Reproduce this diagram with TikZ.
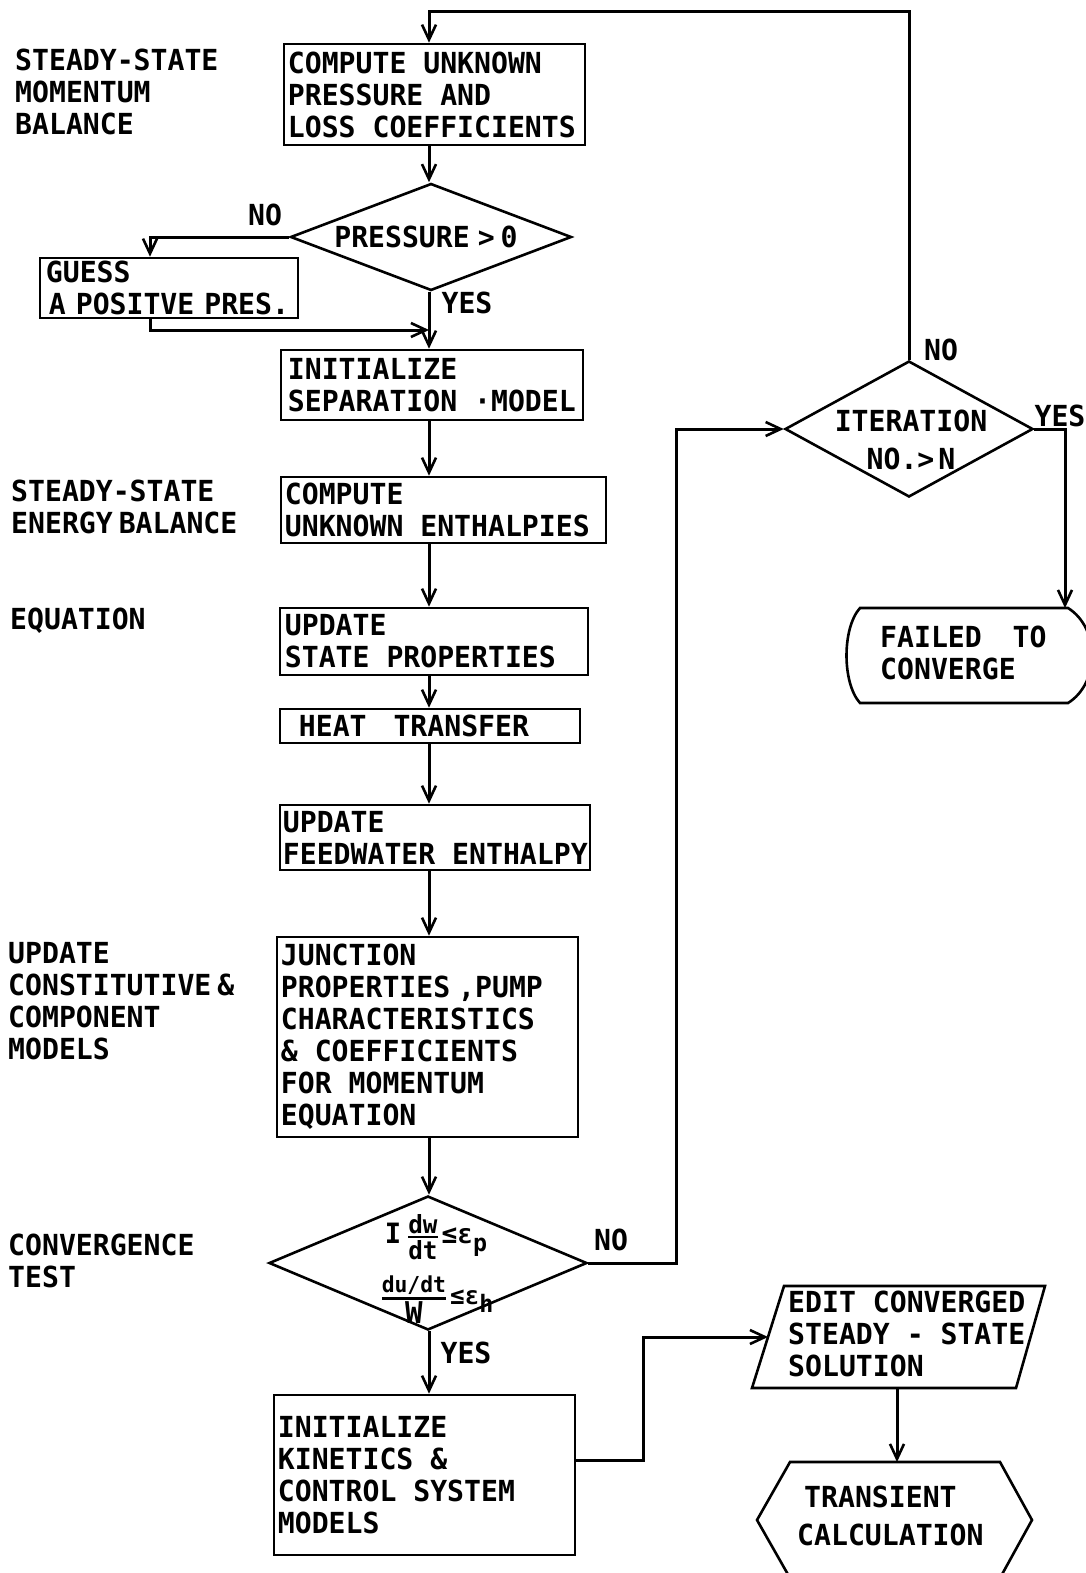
\documentclass[tikz,border=0pt]{standalone}
\usepackage{amsmath}
\usepackage{fontspec}
\newfontfamily\lf[FakeStretch=0.97]{DejaVu Sans Mono Bold}
\usetikzlibrary{arrows.meta,shapes.geometric,calc}
\begin{document}
\begin{tikzpicture}[x=1pt,y=-1pt,
  every node/.style={font=\lf\fontsize{29}{32}\selectfont, inner sep=0pt},
  box/.style={draw, line width=2.6pt},
  txt/.style={align=left, anchor=west},
  dia/.style={draw, diamond, line width=2.6pt, inner sep=0pt},
  arr/.style={-{Straight Barb[length=15pt,width=14pt,line width=2.6pt]}, line width=3pt},
  shp/.style={draw, line width=2.6pt, line join=miter}
]
\useasboundingbox (0,0) rectangle (1086,1573);
\clip (0,0) rectangle (1086,1573);

% helper coordinates
\coordinate (colx) at (429,0);
\coordinate (loopc) at (0,12);
\coordinate (gcol) at (150,0);
\coordinate (mrg) at (0,330);
\coordinate (c2x) at (676,0);
\coordinate (c3x) at (643,0);
\coordinate (ky) at (0,1460);

% left labels
\node[txt] (lm) at (15,92) {STEADY-STATE\\MOMENTUM\\BALANCE};
\node[txt] (le) at (11,507) {STEADY-STATE\\ENERGY\hspace{6pt}BALANCE};
\node[txt] (leq) at (10,621) {EQUATION};
\node[txt] (lu) at (8,1001) {UPDATE\\CONSTITUTIVE\hspace{6pt}\&\\COMPONENT\\MODELS};
\node[txt] (lc) at (8,1261) {CONVERGENCE\\TEST};

% boxes
\node[box, minimum width=301pt, minimum height=101pt] (b1) at (434.5,94.5) {};
\node[txt] (b1t) at ([xshift=5pt]b1.west) {COMPUTE UNKNOWN\\PRESSURE AND\\LOSS COEFFICIENTS};

\node[dia, minimum width=281pt, minimum height=107pt] (d1) at (431,237) {};
\node (d1t) at (426,237) {PRESSURE\hspace{8pt}>\hspace{6pt}0};

\node[box, minimum width=258pt, minimum height=60pt] (guess) at (169,288) {};
\node[txt] (guesst) at ([xshift=7pt]guess.west) {GUESS\\\hspace*{3pt}A\hspace{10pt}POSITVE\hspace{10pt}PRES.};

\node[box, minimum width=302pt, minimum height=70pt] (binit) at (432,385) {};
\node[txt] (binitt) at ([xshift=8pt]binit.west) {INITIALIZE\\SEPARATION ·MODEL};

\node[box, minimum width=325pt, minimum height=66pt] (benth) at (443.5,510) {};
\node[txt] (bentht) at ([xshift=5pt]benth.west) {COMPUTE\\UNKNOWN ENTHALPIES};

\node[box, minimum width=308pt, minimum height=67pt] (bstate) at (434,641.5) {};
\node[txt] (bstatet) at ([xshift=6pt]bstate.west) {UPDATE\\STATE PROPERTIES};

\node[box, minimum width=300pt, minimum height=34pt] (bheat) at (430,726) {};
\node[txt] (bheatt) at ([xshift=20pt]bheat.west) {HEAT\hspace{10pt} TRANSFER};

\node[box, minimum width=310pt, minimum height=65pt] (bfeed) at (435,837.5) {};
\node[txt] (bfeedt) at ([xshift=4pt]bfeed.west) {UPDATE\\FEEDWATER ENTHALPY};

\node[box, minimum width=301pt, minimum height=200pt] (bjunc) at (427.5,1037) {};
\node[txt] (bjunct) at ([xshift=5pt]bjunc.west) {JUNCTION\\PROPERTIES\hspace{8pt},PUMP\\CHARACTERISTICS\\\& COEFFICIENTS\\FOR MOMENTUM\\EQUATION};

\node[dia, minimum width=318pt, minimum height=134pt] (d2) at (428,1263) {};
\node (d2a) at (436,1237) {{\fontsize{28}{28}\selectfont I}\hspace{6pt}$\genfrac{}{}{2.4pt}{}{\hbox{\fontsize{25}{25}\selectfont dw}}{\hbox{\fontsize{25}{25}\selectfont dt}}$\hspace{3pt}{\fontsize{27}{27}\selectfont ≤ε}\raisebox{-8pt}{\fontsize{24}{24}\selectfont p}};
\node (d2b) at (437,1300) {$\genfrac{}{}{2.4pt}{}{\hbox{\fontsize{22}{22}\selectfont du/dt}}{\hbox{\fontsize{30}{30}\selectfont W}}$\hspace{3pt}{\fontsize{25}{25}\selectfont ≤ε}\raisebox{-8pt}{\fontsize{24}{24}\selectfont h}};

\node[box, minimum width=301pt, minimum height=160pt] (bkin) at (424.5,1475) {};
\node[txt] (bkint) at ([xshift=5pt]bkin.west) {INITIALIZE\\KINETICS \&\\CONTROL  SYSTEM\\MODELS};

% iteration diamond
\node[dia, minimum width=248pt, minimum height=136pt] (d3) at (909,429) {};
\node[align=center] (d3t) at (911,440) {ITERATION\\[6pt]NO.>\hspace{4pt}N};

% failed to converge
\draw[shp] (860,608) -- (1068,608) .. controls (1100,628) and (1100,683) .. (1068,703) -- (860,703) .. controls (842,683) and (842,628) .. cycle;
\coordinate (failN) at (1065,608);
\node[txt] (failt) at (880,653) {FAILED\hspace{14pt} TO\\CONVERGE};

% edit parallelogram
\draw[shp] (784,1286) -- (1045,1286) -- (1016,1388) -- (752,1388) -- cycle;
\coordinate (editW) at (768,1337);
\coordinate (editS) at (897,1388);
\node[txt] (editt) at (788,1334) {EDIT CONVERGED\\STEADY - STATE\\SOLUTION};

% transient hexagon
\draw[shp] (790,1462) -- (1000,1462) -- (1032,1520) -- (1000,1578) -- (790,1578) -- (757,1520) -- cycle;
\coordinate (hexN) at (897,1462);
\node[txt] (hext) at (797,1516) {\hspace{7pt}TRANSIENT\\[6pt]CALCULATION};

% branch labels
\node (no1) at (265,215) {NO};
\node (yes1) at (467,303) {YES};
\node (no2) at (611,1240) {NO};
\node (yes2) at (466,1353) {YES};
\node (no3) at (941,350) {NO};
\node (yes3) at (1060,416) {YES};

% connectors
\draw[arr] (d3.north) -- (d3.north |- loopc) -- (colx |- loopc) -- (colx |- b1.north);
\draw[arr] (colx |- b1.south) -- (colx |- d1.north);
\draw[arr] (d1.west) -| (gcol |- guess.north);
\draw[arr] (gcol |- guess.south) |- (colx |- mrg);
\draw[arr] (colx |- d1.south) -- (colx |- binit.north);
\draw[arr] (colx |- binit.south) -- (colx |- benth.north);
\draw[arr] (colx |- benth.south) -- (colx |- bstate.north);
\draw[arr] (colx |- bstate.south) -- (colx |- bheat.north);
\draw[arr] (colx |- bheat.south) -- (colx |- bfeed.north);
\draw[arr] (colx |- bfeed.south) -- (colx |- bjunc.north);
\draw[arr] (colx |- bjunc.south) -- (colx |- d2.north);
\draw[arr] (colx |- d2.south) -- (colx |- bkin.north);
\draw[arr] (d2.east) -| (c2x |- d3.west) -- (d3.west);
\draw[arr] (d3.east) -| (failN);
\draw[arr] (bkin.east |- ky) -- (c3x |- ky) |- (editW);
\draw[arr] (editS) -- (hexN);
\end{tikzpicture}
\end{document}
